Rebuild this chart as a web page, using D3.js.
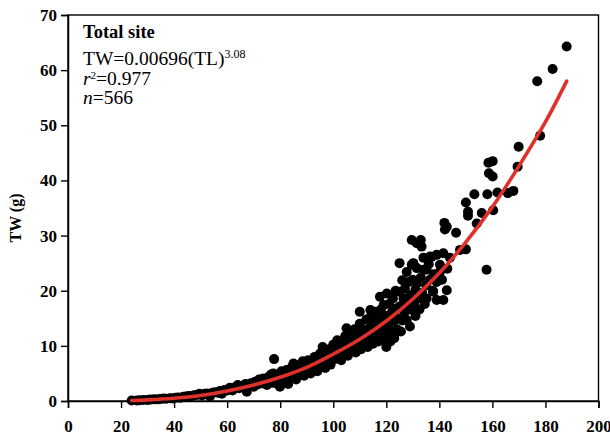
<!DOCTYPE html>
<html><head><meta charset="utf-8">
<script src="https://cdn.jsdelivr.net/npm/d3@7/dist/d3.min.js"></script>
<style>body{margin:0;background:#fff}svg{display:block}text{font-family:"Liberation Serif","Times New Roman",serif}</style>
</head><body><svg id="c" width="610" height="435"></svg>
<script>
// Observed fish: [TL, TW]
const samples = [
[24,0.1],[26,0.1],[27,0.15],[28.5,0.2],[30,0.2],[31,0.25],[32.5,0.3],[34,0.3],[35,0.35],[36,0.45],[37,0.4],[38.5,0.5],[39.5,0.45],[40.5,0.6],[41.5,0.65],[42.5,0.6],[43.5,0.75],[44.5,0.8],[45.5,0.9],[46.5,0.85],[47.5,1.05],[48.5,1.1],[49.5,1.3],[50.5,1.0],[51.5,1.3],[52.5,1.35],[53.5,0.8],[54.5,1.5],[55.5,1.6],[56.5,1.5],[57.3,1.8],[58,1.3],[59,2.0],[60,1.9],[61,2.4],[62,1.9],[63,2.5],[64,2.9],[64.5,2.3],[66,2.6],[67.4,1.7],[67,3.1],[68,2.7],[69,3.2],[70,2.6],[70.5,3.5],[71.5,3.0],[72,3.9],[73,3.2],[73.6,4.1],[74.5,3.6],[75,2.9],[75.5,4.3],[76,3.6],[76.5,4.8],[77,3.3],[77.4,5.0],[77.7,7.6],[78,4.0],[78.5,3.2],[79,4.8],[79.5,3.7],[79.9,2.6],[80,4.4],[80.5,5.4],[81,3.4],[81.5,4.6],[82.4,5.6],[82.5,3.9],[83,3.1],[83.5,5.0],[84,4.3],[84.5,6.2],[85,6.8],[85.5,5.2],[86,3.9],[86.5,5.8],[87,4.6],[87.5,6.6],[88,5.2],[88.5,7.2],[89,4.6],[89.5,6.0],[90,5.4],[90.5,7.4],[91,6.4],[91.5,5.0],[92,6.9],[92.5,5.8],[93,8.0],[93.5,6.4],[94,5.4],[94.5,7.4],[95,8.6],[95.5,6.6],[96,9.8],[96.5,7.8],[97,6.0],[97.5,8.6],[98,7.2],[98.5,9.4],[99,6.6],[99.5,8.2],[100,10.2],[100.5,7.6],[101,9.0],[101.5,11.0],[102,8.2],[102.5,9.8],[103,7.4],[103.5,10.6],[104,8.8],[104.5,11.8],[105,13.2],[105,9.8],[105.5,8.2],[106,11.0],[106.5,12.4],[107,9.2],[107.5,10.4],[108,13.0],[108.5,8.8],[108.5,11.6],[109,12.4],[109.5,10.0],[110,16.2],[110,14.0],[110.5,9.4],[110.5,11.6],[111,13.0],[111.5,10.4],[112,12.2],[112.5,14.8],[113,9.8],[113,11.4],[113.5,13.2],[114,16.5],[114,15.2],[114.5,12.0],[115,10.4],[115,13.8],[115.5,14.8],[116,11.4],[116,16.2],[116.5,12.8],[117,10.8],[117,15.0],[117.6,18.9],[117.5,13.8],[118,12.0],[118,16.6],[118.5,14.6],[119,11.2],[119,17.4],[119.5,13.2],[120,9.8],[120,15.4],[120.2,19.5],[120.5,12.4],[121,14.0],[121,17.6],[121.5,10.8],[122,16.0],[122,12.6],[122.5,18.6],[123,14.6],[123,11.4],[123.5,20.0],[124,16.8],[124,13.0],[124.5,15.0],[125,25.0],[125,19.8],[125.2,17.2],[125.5,12.6],[126,21.9],[126,14.6],[126.5,18.6],[127,16.2],[127,20.4],[127.7,23.4],[127.7,14.7],[128,18.2],[128.5,21.6],[128.9,13.5],[129,16.6],[129,19.2],[129.6,24.7],[129.6,29.2],[130,22.0],[130.2,25.0],[130.5,17.6],[131,15.4],[131,20.2],[131.5,24.1],[131.5,28.6],[131.5,21.3],[132,18.6],[132.5,16.6],[133,29.2],[133,22.4],[133.3,28.0],[133.5,19.6],[134,23.8],[134,26.0],[134.5,17.6],[135,21.0],[135.2,18.6],[135.2,23.8],[136,24.8],[136.5,22.0],[136.5,26.2],[137.1,26.1],[137.5,20.0],[137.7,19.8],[138,23.0],[139,26.5],[139,18.3],[139,21.6],[140.2,24.7],[140.2,23.4],[141,22.0],[141.5,18.3],[141.5,26.8],[141.9,32.3],[142.1,31.1],[142.8,31.6],[142.8,20.1],[143,24.0],[144,26.0],[146.3,30.5],[147.8,27.4],[150,27.5],[150,36.0],[150.8,34.3],[150.8,33.6],[153.2,37.5],[154.1,32.2],[156,34.1],[157.8,23.8],[158.1,37.5],[158.5,43.2],[158.7,41.3],[160.1,43.5],[160.1,40.7],[160.3,34.6],[161.9,37.8],[165.8,37.7],[167.9,38.1],[169.5,42.5],[169.9,46.1],[176.9,58.0],[178,48.1],[182.7,60.2],[188,64.3]
];
// Fitted curve
const curveTL = [24,30,40,50,60,70,80,90,100,110,120,130,140,150,160,170,180,188];
const curveTW = [0.1,0.2,0.5,1.0,1.8,2.9,4.3,6.1,8.5,11.2,14.5,18.5,23.2,28.8,35.2,42.6,50.6,58.0];
const xTicks = [0,20,40,60,80,100,120,140,160,180,200];
const yTicks = [0,10,20,30,40,50,60,70];

const svg = d3.select('#c');
const x = d3.scaleLinear().domain([0,200]).range([68,598.5]);
const y = d3.scaleLinear().domain([0,70]).range([401,15]);

// frame
svg.append('rect').attr('x',x(0)).attr('y',y(70)).attr('width',x(200)-x(0)).attr('height',y(0)-y(70))
  .attr('fill','none').attr('stroke','#000').attr('stroke-width',1.4);

const xa = svg.append('g').attr('transform',`translate(0,${y(0)})`)
  .call(d3.axisBottom(x).tickValues(xTicks).tickSize(7).tickPadding(12).tickFormat(d3.format('d')));
const ya = svg.append('g').attr('transform',`translate(${x(0)},0)`)
  .call(d3.axisLeft(y).tickValues(yTicks).tickSize(7).tickPadding(4).tickFormat(d3.format('d')));
[xa,ya].forEach(g=>{
  g.select('.domain').attr('stroke','#000').attr('stroke-width',1.5);
  g.selectAll('.tick line').attr('stroke','#000').attr('stroke-width',1.4);
  g.selectAll('.tick text').attr('fill','#000').attr('font-size',17).attr('font-weight','bold')
   .attr('font-family','"Liberation Serif","Times New Roman",serif');
});

// points
svg.append('g').selectAll('circle').data(samples).join('circle')
  .attr('cx',d=>x(d[0])).attr('cy',d=>y(d[1])).attr('r',5).attr('fill','#000');

// curve
const line = d3.line().x(i=>x(curveTL[i])).y(i=>y(curveTW[i])).curve(d3.curveCatmullRom);
svg.append('path').attr('d',line(d3.range(curveTL.length)))
  .attr('fill','none').attr('stroke','#e0302a').attr('stroke-width',3.6).attr('stroke-linecap','round');

// axis title
svg.append('text').attr('transform','translate(21,218) rotate(-90)').attr('text-anchor','middle')
  .attr('font-size',16).attr('font-weight','bold').text('TW (g)');

// annotations
svg.append('text').attr('x',83).attr('y',37.5).attr('font-size',18.5).attr('font-weight','bold').text('Total site');
const eq = svg.append('text').attr('x',83).attr('y',65).attr('font-size',19.5);
eq.append('tspan').text('TW=0.00696(TL)');
eq.append('tspan').attr('font-size',12).attr('dy',-7).text('3.08');
const r2 = svg.append('text').attr('x',83).attr('y',84.5).attr('font-size',19.5);
r2.append('tspan').attr('font-style','italic').text('r');
r2.append('tspan').attr('font-size',11).attr('dy',-5.5).text('2');
r2.append('tspan').attr('dy',5.5).text('=0.977');
const nn = svg.append('text').attr('x',83).attr('y',104).attr('font-size',19.5);
nn.append('tspan').attr('font-style','italic').text('n');
nn.append('tspan').text('=566');
</script></body></html>
